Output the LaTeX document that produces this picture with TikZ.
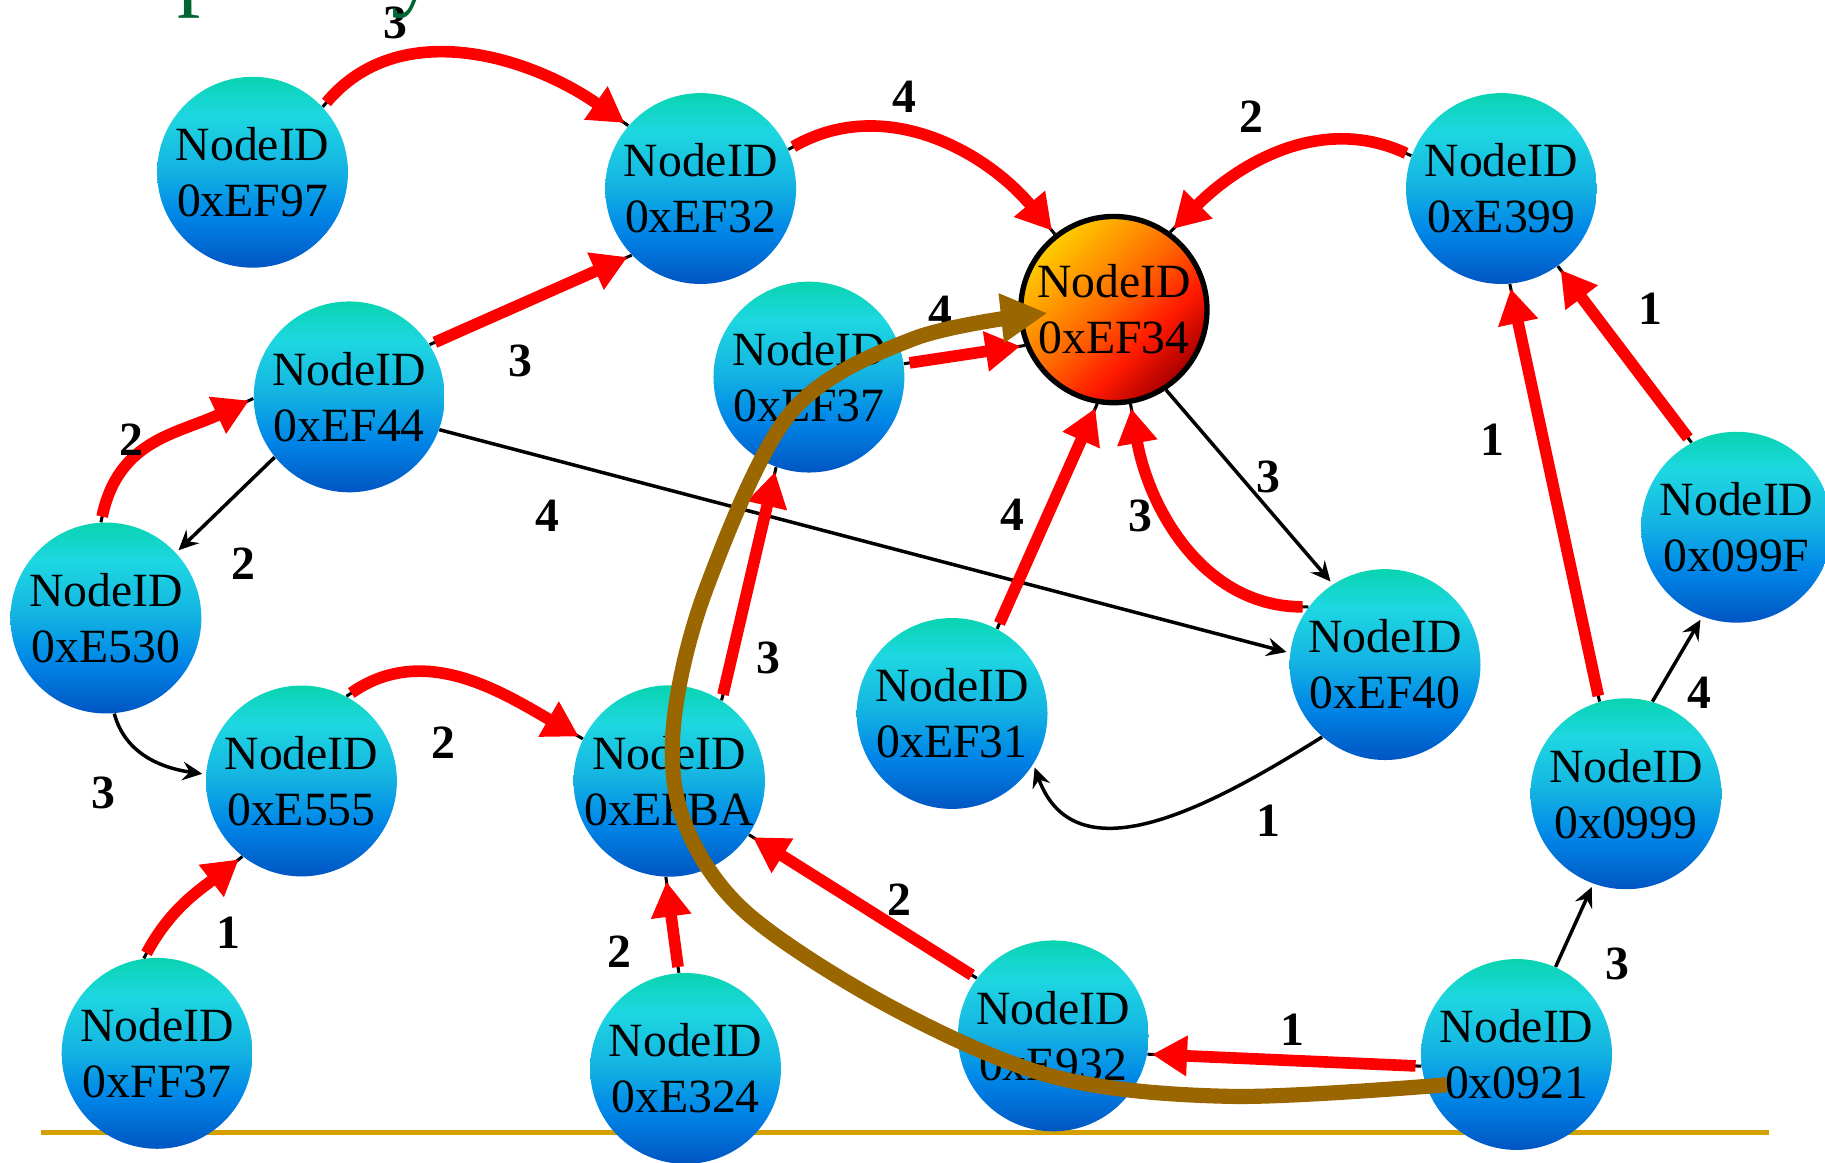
\documentclass[tikz,border=0pt]{standalone}
\usepackage{fontspec}
\setmainfont{Liberation Serif}
\usetikzlibrary{arrows.meta,calc}

% palette
\definecolor{seaA}{RGB}{0,85,195}
\definecolor{seaB}{RGB}{0,135,232}
\definecolor{seaC}{RGB}{20,180,226}
\definecolor{seaD}{RGB}{30,215,225}
\definecolor{seaE}{RGB}{8,212,176}
\definecolor{hotA}{RGB}{175,0,0}
\definecolor{hotB}{RGB}{255,25,0}
\definecolor{hotC}{RGB}{255,95,0}
\definecolor{hotD}{RGB}{255,140,0}
\definecolor{hotE}{RGB}{255,205,0}
\definecolor{arrowred}{RGB}{255,0,0}
\definecolor{trailbrown}{RGB}{153,102,0}
\definecolor{rulegold}{RGB}{212,160,0}
\definecolor{titlegreen}{RGB}{0,102,51}

% node fills
\pgfdeclareverticalshading{seaball}{100bp}{color(0bp)=(seaA); color(25bp)=(seaA); color(39bp)=(seaB); color(51bp)=(seaC); color(65bp)=(seaD); color(75bp)=(seaE); color(100bp)=(seaE)}
\pgfdeclareverticalshading{hotball}{100bp}{color(0bp)=(hotA); color(26bp)=(hotA); color(38bp)=(hotB); color(50bp)=(hotC); color(60bp)=(hotD); color(75bp)=(hotE); color(100bp)=(hotE)}

\newcommand\idfont{\fontsize{20.5}{24}\selectfont}
\newcommand\lblfont{\fontsize{20.5}{24}\selectfont\bfseries}

\tikzset{
  idnode/.style={circle, minimum size=82pt, inner sep=0pt, shade, shading=seaball, align=center, font=\idfont},
  hotnode/.style={idnode, draw=black, line width=2.3pt, shading=hotball, shading angle=45, minimum size=80pt},
  lbl/.style={font=\lblfont, inner sep=0pt},
  stub/.style={draw=black, line width=1.3pt},
  redarrow/.style={draw=arrowred, line width=5pt, shorten <=2.5pt, shorten >=2pt, -{Triangle[length=15pt,width=16.5pt]}},
  blkarrow/.style={draw=black, line width=1.5pt, shorten >=1.5pt, -{Stealth[length=8.5pt,width=8pt,inset=3pt]}},
  brownarrow/.style={draw=trailbrown, line width=6.5pt, -{Triangle[length=20pt,width=20pt]}},
  baserule/.style={draw=rulegold, line width=2pt},
  titlefrag/.style={text=titlegreen, font=\fontsize{40}{40}\selectfont, inner sep=0pt, anchor=base west}
}

% red weighted link drawn over a thin black guide line
\newcommand\redlink[3][]{\draw[stub] (#2) to[#1] (#3); \draw[redarrow] (#2) to[#1] (#3);}

\begin{document}
\begin{tikzpicture}[x=0.5pt, y=0.5pt]
\useasboundingbox (0,0) rectangle (1568,-999);

% baseline rule
\coordinate (ruleL) at (35,-973);
\coordinate (ruleR) at (1520,-973);
\draw[baserule] (ruleL) -- (ruleR);

% nodes
\node[idnode] (n97)  at (217,-148)  {NodeID\\0xEF97};
\node[idnode] (n32)  at (602,-162)  {NodeID\\0xEF32};
\node[hotnode] (n34) at (957,-266)  {NodeID\\0xEF34};
\node[idnode] (n399) at (1290,-162) {NodeID\\0xE399};
\node[idnode] (n44)  at (300,-341)  {NodeID\\0xEF44};
\node[idnode] (n37)  at (695,-324)  {NodeID\\0xEF37};
\node[idnode] (n530) at (91,-531)   {NodeID\\0xE530};
\node[idnode] (n99F) at (1492,-453) {NodeID\\0x099F};
\node[idnode] (n40)  at (1190,-571) {NodeID\\0xEF40};
\node[idnode] (n31)  at (818,-613)  {NodeID\\0xEF31};
\node[idnode] (n555) at (259,-671)  {NodeID\\0xE555};
\node[idnode] (nBA)  at (575,-671)  {NodeID\\0xEFBA};
\node[idnode] (n999) at (1397,-682) {NodeID\\0x0999};
\node[idnode] (nFF)  at (135,-905)  {NodeID\\0xFF37};
\node[idnode] (n324) at (589,-918)  {NodeID\\0xE324};
\node[idnode] (n932) at (905,-890)  {NodeID\\0xE932};
\node[idnode] (n921) at (1303,-906) {NodeID\\0x0921};

% thin black links
\draw[blkarrow] (n44.219) -- (n530.43);
\draw[blkarrow] (n44.340) -- (n40.173);
\draw[blkarrow] (n34.303) -- (n40.123);
\draw[blkarrow] (n40.229) to[out=212,in=290,looseness=1.1] (n31.328);
\draw[blkarrow] (n530.275) to[out=285,in=172] (n555.176);
\draw[blkarrow] (n999.74) -- (n99F.249);
\draw[blkarrow] (n921.66) -- (n999.250);

% red links
\redlink[out=50,in=145]{n97.43}{n32.139}
\redlink[out=30,in=130]{n32.24}{n34.128}
\redlink[out=155,in=45]{n399.160}{n34.54}
\redlink{n44.33}{n32.224}
\redlink{n37.8}{n34.202}
\redlink{n31.62}{n34.260}
\redlink[out=180,in=280]{n40.143}{n34.280}
\redlink{n999.106}{n399.275}
\redlink{n99F.118}{n399.306}
\redlink[out=78,in=205,looseness=1.1]{n530.93}{n44.181}
\redlink[out=35,in=150]{n555.62}{nBA.154}
\redlink{nBA.57}{n37.250}
\redlink[out=62,in=218]{nFF.98}{n555.232}
\redlink{n324.94}{nBA.268}
\redlink{n932.143}{nBA.326}
\redlink{n921.187}{n932.349}

% weights
\node[lbl] (w01) at (340,-20)   {3};
\node[lbl] (w02) at (777,-83)   {4};
\node[lbl] (w03) at (1075,-100) {2};
\node[lbl] (w04) at (447,-310)  {3};
\node[lbl] (w05) at (808,-268)  {4};
\node[lbl] (w06) at (1418,-265) {1};
\node[lbl] (w07) at (113,-378)  {2};
\node[lbl] (w08) at (1282,-378) {1};
\node[lbl] (w09) at (1090,-410) {3};
\node[lbl] (w10) at (470,-443)  {4};
\node[lbl] (w11) at (870,-442)  {4};
\node[lbl] (w12) at (980,-443)  {3};
\node[lbl] (w13) at (209,-484)  {2};
\node[lbl] (w14) at (660,-565)  {3};
\node[lbl] (w15) at (1460,-595) {4};
\node[lbl] (w16) at (381,-638)  {2};
\node[lbl] (w17) at (89,-681)   {3};
\node[lbl] (w18) at (1090,-705) {1};
\node[lbl] (w19) at (773,-773)  {2};
\node[lbl] (w20) at (196,-801)  {1};
\node[lbl] (w21) at (532,-818)  {2};
\node[lbl] (w22) at (1390,-828) {3};
\node[lbl] (w23) at (1110,-885) {1};

% highlighted route
\coordinate (bs) at ($(n921)+(-60,-26)$);
\coordinate (be) at ($(n34)+(-57,-3)$);
\draw[brownarrow] plot[smooth, tension=0.55] coordinates {(bs) (1058,-942) (905,-925) (765,-865) (640,-783) (587,-704) (579,-620) (607,-505) (679,-355) (785,-291) (be)};

% title letters above the frame
\node[titlefrag] (tp) at (152,1) {p};
\node[titlefrag] (ty) at (336,1) {y};
\end{tikzpicture}
\end{document}
